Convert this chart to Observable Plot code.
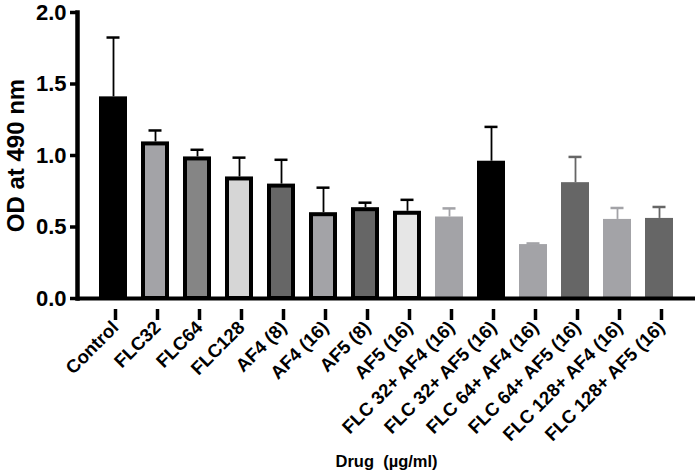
<!DOCTYPE html>
<html><head><meta charset="utf-8">
<script src="https://cdn.jsdelivr.net/npm/d3@7"></script>
<script src="https://cdn.jsdelivr.net/npm/@observablehq/plot@0.6"></script>
<style>body{margin:0;background:#fff;}</style>
</head><body><div id="chart"></div>
<script>
const drugs = ["Control","FLC32","FLC64","FLC128","AF4 (8)","AF4 (16)","AF5 (8)","AF5 (16)",
  "FLC 32+ AF4 (16)","FLC 32+ AF5 (16)","FLC 64+ AF4 (16)","FLC 64+ AF5 (16)","FLC 128+ AF4 (16)","FLC 128+ AF5 (16)"];
const means = [1.41, 1.095, 0.99, 0.85, 0.80, 0.60, 0.635, 0.61, 0.57, 0.96, 0.377, 0.81, 0.553, 0.56];
const errors = [0.415, 0.08, 0.05, 0.135, 0.17, 0.175, 0.035, 0.08, 0.06, 0.24, 0.008, 0.18, 0.08, 0.08];
const yTicks = [0, 0.5, 1.0, 1.5, 2.0];
const fills = ["#000000","#a3a3a7","#858585","#d6d6d6","#666666","#a3a3a7","#666666","#e6e6e6",
  "#a3a3a7","#000000","#a3a3a7","#666666","#a3a3a7","#666666"];
const outlinedCount = 8;

const data = drugs.map((d, i) => ({drug: d, mean: means[i], top: means[i] + errors[i], outlined: i < outlinedCount}));
const plain = data.filter(d => !d.outlined);
const outl = data.filter(d => d.outlined);

const chart = Plot.plot({
  width: 699, height: 472,
  marginLeft: 77, marginRight: 4, marginTop: 12, marginBottom: 174,
  style: {fontFamily: "'Liberation Sans', Arial, sans-serif", fontWeight: "bold", color: "#000", background: "#fff", overflow: "visible"},
  x: {domain: drugs, paddingInner: 0.34, paddingOuter: 0.44, label: null},
  y: {domain: [0, 2], label: null},
  color: {domain: drugs, range: fills},
  marks: [
    Plot.barY(plain, {x: "drug", y: "mean", fill: "drug"}),
    Plot.barY(outl, {x: "drug", y: "mean", fill: "drug", stroke: "#000", strokeWidth: 4, insetLeft: 2, insetRight: 2, insetTop: 2}),
    Plot.ruleX(plain, {x: "drug", y1: "mean", y2: "top", stroke: "drug", strokeWidth: 1.8}),
    Plot.tickY(plain, {x: "drug", y: "top", stroke: "drug", strokeWidth: 2.5, insetLeft: 7.5, insetRight: 7.5}),
    Plot.ruleX(outl, {x: "drug", y1: "mean", y2: "top", stroke: "#000", strokeWidth: 1.8}),
    Plot.tickY(outl, {x: "drug", y: "top", stroke: "#000", strokeWidth: 2.5, insetLeft: 7.5, insetRight: 7.5}),
    Plot.axisY({ticks: yTicks, tickFormat: d3.format(".1f"), tickSize: 7, tickPadding: 4, strokeWidth: 3.5, fontSize: 22, label: null}),
    Plot.axisX({tickSize: 11, tickPadding: 4, strokeWidth: 3.5, tickRotate: -45, fontSize: 18.5, dx: 2, dy: 11, label: null}),
    Plot.frame({anchor: "left", strokeWidth: 4.5}),
    Plot.ruleY([0], {strokeWidth: 4}),
    Plot.text(["OD at 490 nm"], {frameAnchor: "left", textAnchor: "middle", rotate: -90, dx: -61, lineAnchor: "middle", fontSize: 24}),
    Plot.text(["Drug\u00a0\u00a0(\u00b5g/ml)"], {frameAnchor: "bottom", textAnchor: "middle", dy: 163, lineAnchor: "middle", fontSize: 16.5})
  ]
});
document.getElementById("chart").appendChild(chart);
</script>
</body></html>
